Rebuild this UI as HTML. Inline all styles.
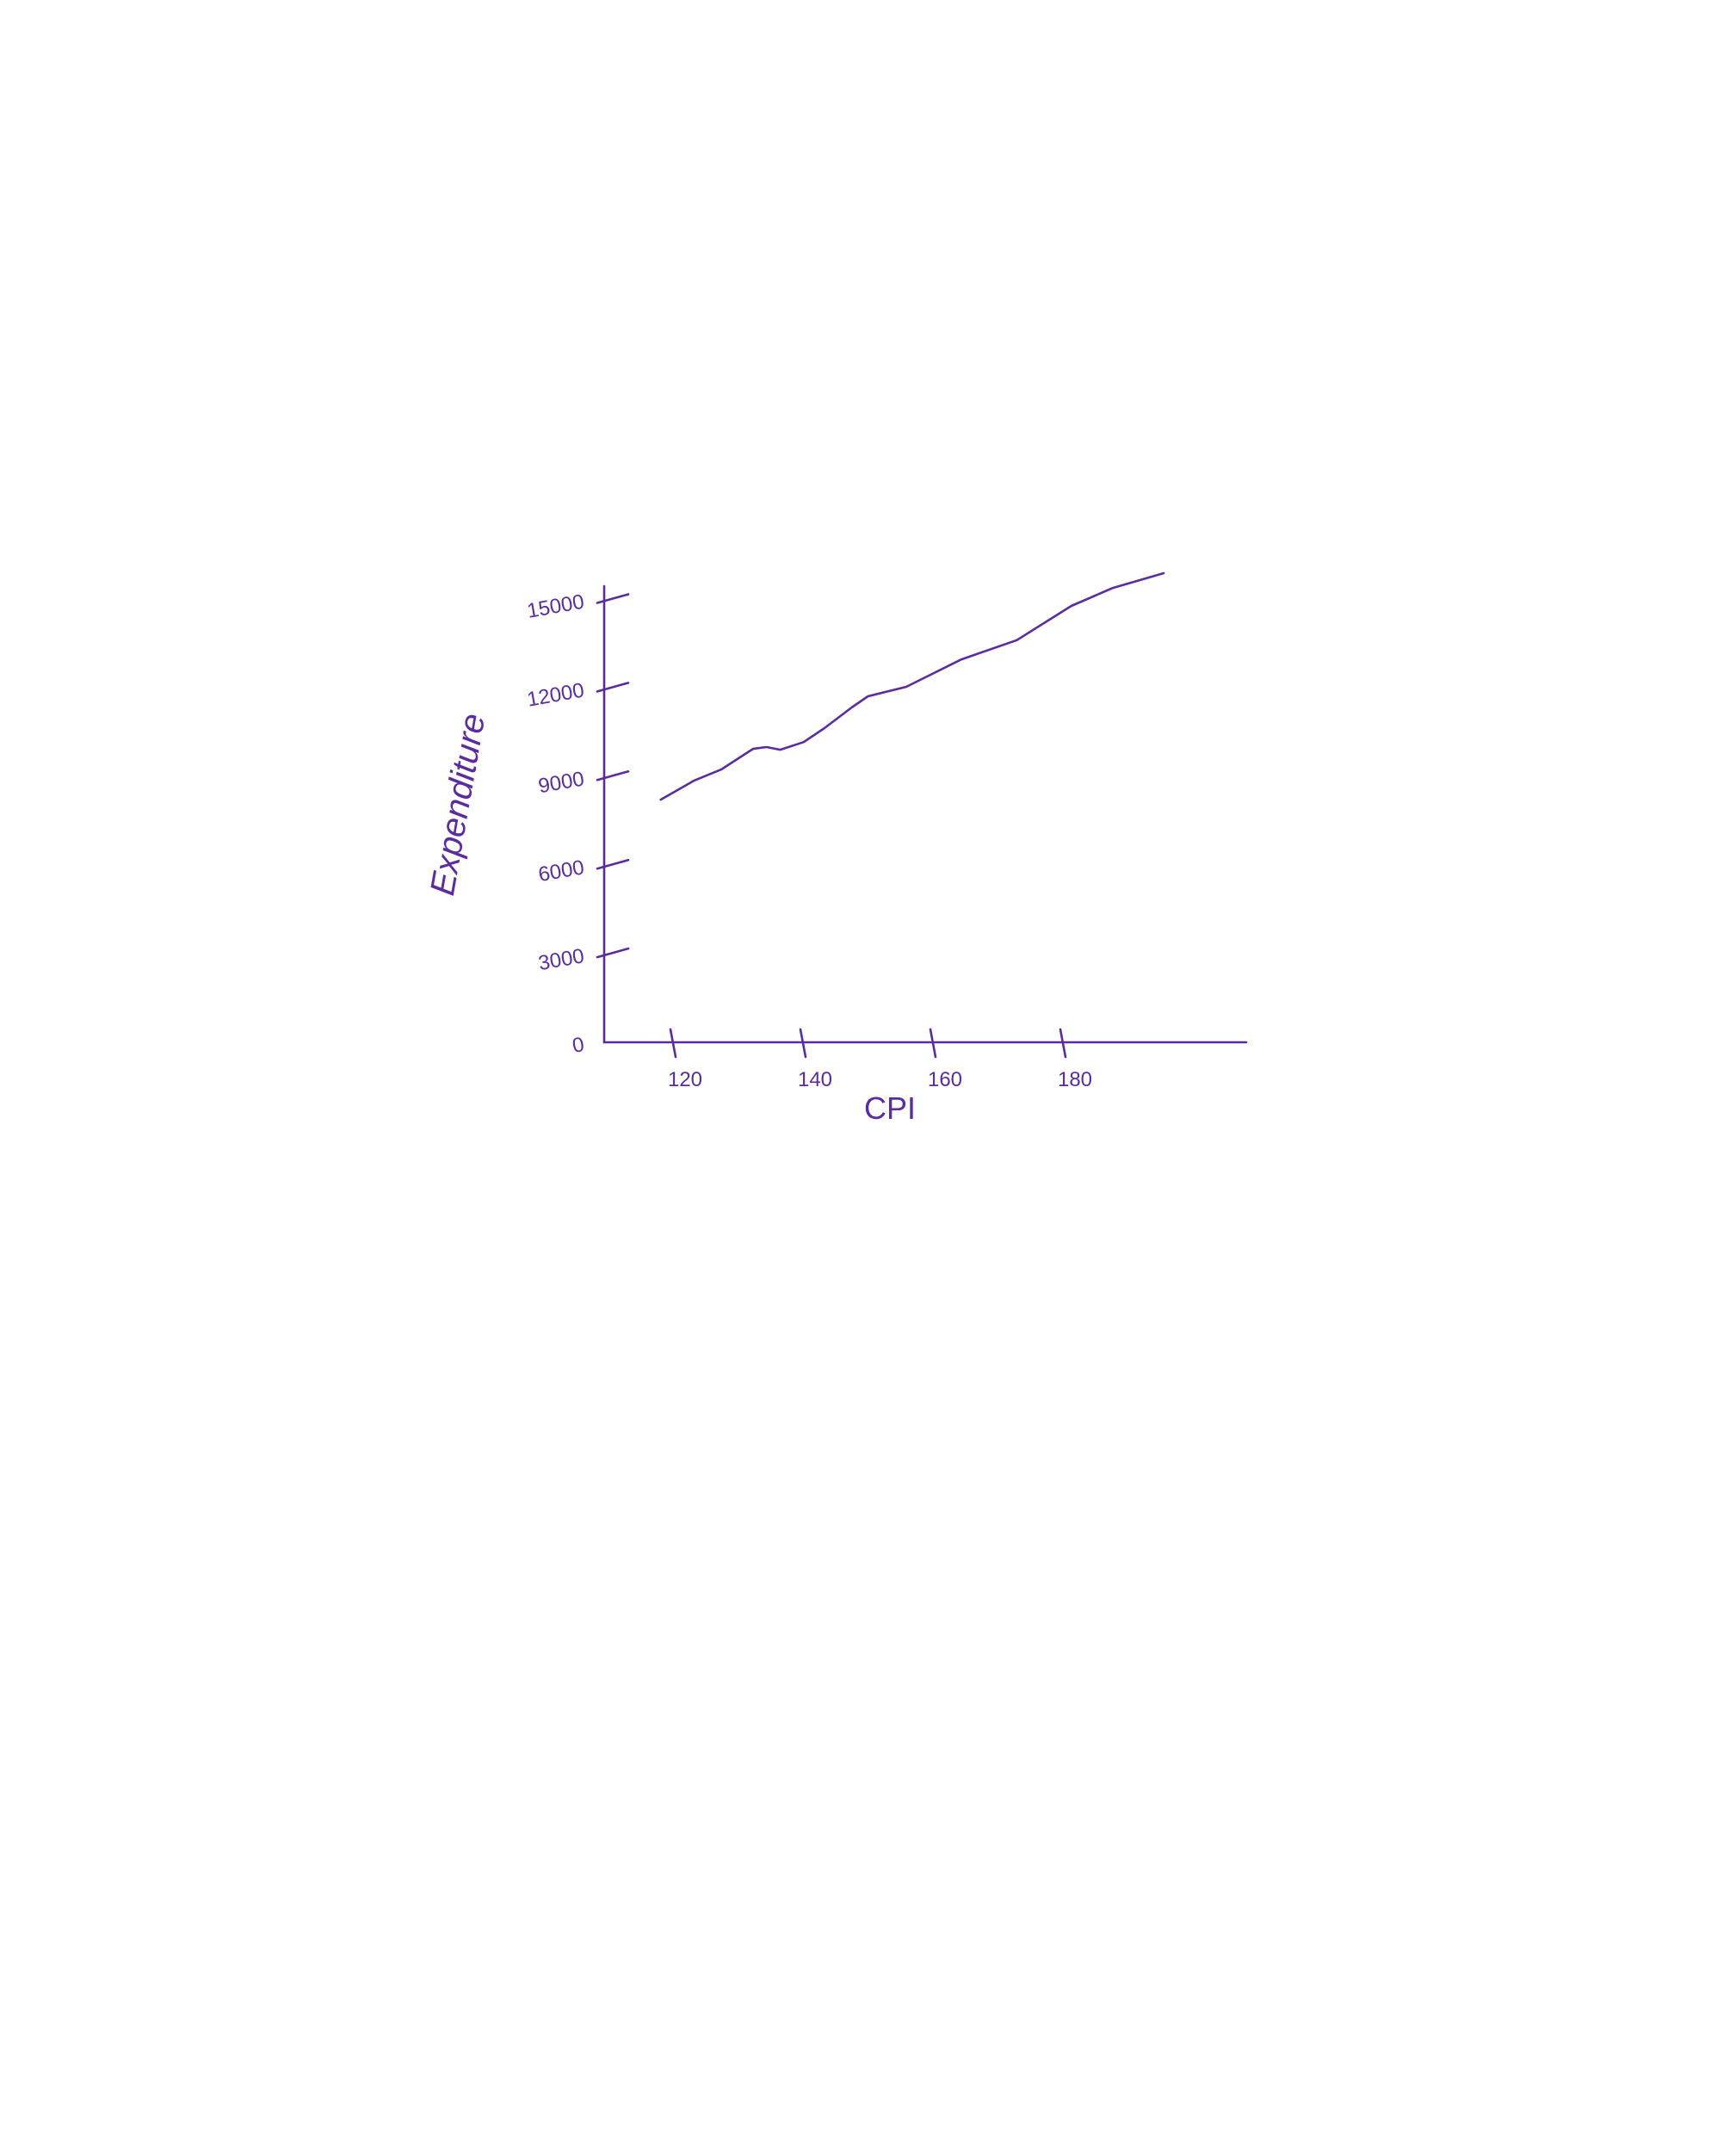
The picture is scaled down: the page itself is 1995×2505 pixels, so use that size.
<!DOCTYPE html>
<html><head><meta charset="utf-8"><style>
html,body{margin:0;padding:0;background:#fff}
svg text{font-family:"Liberation Sans",sans-serif;fill:#5a2ca0}
</style></head><body>
<svg width="1995" height="2500" viewBox="0 0 1995 2500">
<g id="axes" stroke="#5a2ca0" stroke-width="2.6" fill="none" stroke-linecap="round"></g>
<path id="line" fill="none" stroke="#5a2ca0" stroke-width="2.6" stroke-linejoin="round" stroke-linecap="round"/>
<g id="labels"></g>
<text x="1034" y="1300" font-size="36" text-anchor="middle">CPI</text>
<text x="0" y="0" font-size="40" font-style="italic" text-anchor="middle" transform="translate(545,937) rotate(-80)">Expenditure</text>
</svg>
<script>
const cpi = [118.1,123.2,127.4,132.3,134.4,136.5,140.1,143.3,147.5,150,155.9,164.4,172.9,181.3,187.7,195.5];
const expenditure = [8220,8860,9240,9940,10000,9910,10170,10640,11340,11720,12040,12970,13620,14780,15390,15890];
const xTicks = [120,140,160,180];
const yTicks = [0,3000,6000,9000,12000,15000];
const yTickLabels = ["0","3000","6000","9000","12000","15000"];

const NS = "http://www.w3.org/2000/svg";
function xScale(v){ return 782 + (v-120)*7.55; }
function yScale(v){ return 1211 - v*0.0343; }

const axes = document.getElementById('axes');
function mk(tag, attrs, parent){
  const e = document.createElementNS(NS, tag);
  for (const k in attrs) e.setAttribute(k, attrs[k]);
  parent.appendChild(e);
  return e;
}
const ya = mk('line',{x1:702,y1:681,x2:702,y2:1211},axes);


const xa = mk('line',{x1:702,y1:1211,x2:1448,y2:1211},axes);



const labels = document.getElementById('labels');
yTicks.forEach((v,i)=>{
  const y = yScale(v);
  if (v>0){
    const t = mk('line',{x1:694,y1:y+4,x2:730,y2:y-6},axes);
    
    
  }
  const tx = mk('text',{x:678,y:y+10,'font-size':24,'text-anchor':'end',transform:`rotate(-10 678 ${y})`},labels);
  tx.textContent = yTickLabels[i];
  
  
});
xTicks.forEach(v=>{
  const x = xScale(v);
  const t = mk('line',{x1:x-3,y1:1196,x2:x+3,y2:1228},axes);
  
  
  const tx = mk('text',{x:x+14,y:1262,'font-size':24,'text-anchor':'middle'},labels);
  tx.textContent = String(v);
  
  
});

let d = '';
cpi.forEach((c,i)=>{ d += (i?'L':'M') + xScale(c).toFixed(1) + ',' + yScale(expenditure[i]).toFixed(1); });
document.getElementById('line').setAttribute('d', d);
</script>
</body></html>
